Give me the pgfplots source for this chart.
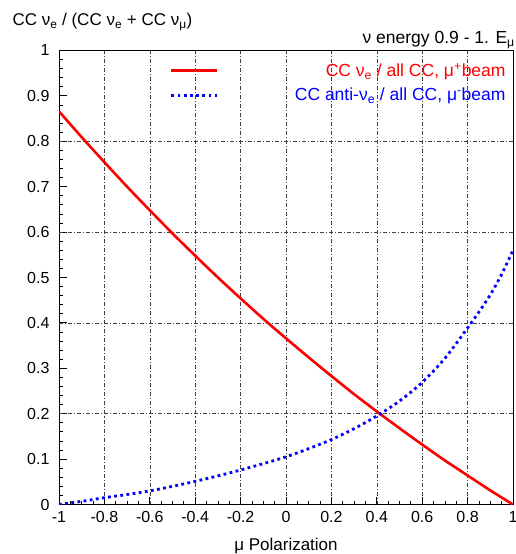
\documentclass[border=0pt]{standalone}
\usepackage{fontspec}
\setmainfont{Liberation Sans}
\usepackage{pgfplots}
\pgfplotsset{compat=1.18}
\pgfplotstableread{
x y
-1.0 0.866
-0.9 0.809
-0.8 0.754
-0.7 0.700
-0.6 0.648
-0.5 0.597
-0.4 0.548
-0.3 0.500
-0.2 0.454
-0.1 0.409
0.0 0.366
0.1 0.324
0.2 0.283
0.3 0.243
0.4 0.205
0.5 0.168
0.6 0.132
0.7 0.097
0.8 0.064
0.9 0.031
1.0 0.000
}\redtab
\pgfplotstableread{
x y
-1.0 0.000
-0.9 0.007
-0.8 0.015
-0.7 0.022
-0.6 0.030
-0.5 0.040
-0.4 0.051
-0.3 0.063
-0.2 0.076
-0.1 0.090
0.0 0.105
0.1 0.123
0.2 0.143
0.3 0.167
0.4 0.195
0.5 0.228
0.6 0.269
0.7 0.322
0.8 0.389
0.85 0.424
0.9 0.462
0.95 0.507
1.0 0.560
}\bluetab
\begin{document}
\begin{tikzpicture}
\useasboundingbox (0,0) rectangle (516pt,554pt);
\begin{axis}[
  at={(59pt,49.5pt)}, anchor=south west,
  scale only axis, width=454pt, height=454pt,
  xmin=-1, xmax=1, ymin=0, ymax=1,
  axis line style={line width=0.9pt},
  xtick={-1,-0.8,...,1.01},
  xticklabels={-1,-0.8,-0.6,-0.4,-0.2,0,0.2,0.4,0.6,0.8,1},
  ytick={0,0.1,...,1.01},
  yticklabels={0,0.1,0.2,0.3,0.4,0.5,0.6,0.7,0.8,0.9,1},
  minor x tick num=3, minor y tick num=4,
  xtick pos=bottom, ytick pos=left,
  tick align=inside,
  major tick length=8pt, minor tick length=4pt,
  every tick/.style={black, line width=0.8pt},
  xmajorgrids,
  extra y ticks={0.2,0.4,0.6,0.8},
  extra y tick labels={},
  extra y tick style={grid=major, major tick length=0pt},
  grid style={black!75, line width=0.6pt, dash pattern=on 4pt off 2pt on 1pt off 2pt},
  tick label style={font=\fontsize{16}{19}\selectfont},
  xticklabel style={yshift=-3pt},
  yticklabel style={xshift=-6pt},
  xlabel={μ Polarization},
  xlabel style={font=\fontsize{17}{20}\selectfont, at={(0.5,0)}, anchor=base, yshift=-46pt},
  legend cell align=right,
  legend image code/.code={\draw[#1] (0pt,0pt) -- (46pt,0pt);},
  legend style={draw=none, fill=none, at={(0.995,0.981)}, anchor=north east,
    font=\fontsize{17.5}{21}\selectfont, row sep=6pt,
    /tikz/every odd column/.append style={column sep=74pt}},
]
\addplot[red, line width=2.6pt, smooth] table[x=x,y=y] {\redtab};
\addlegendentry{\textcolor{red}{CC ν\textsubscript{e} / all CC, μ\textsuperscript{+}beam}}
\addplot[blue, line width=2.8pt, line cap=butt, smooth, dash pattern=on 2.8pt off 3.4pt] table[x=x,y=y] {\bluetab};
\addlegendentry{\textcolor{blue}{CC anti-ν\textsubscript{e} / all CC, μ\textsuperscript{-}beam}}
\end{axis}
\node[anchor=base west, font=\fontsize{17}{20}\selectfont] at (9pt,528pt) {CC ν\textsubscript{e} / (CC ν\textsubscript{e} + CC ν\textsubscript{μ})};
\node[anchor=base east, font=\fontsize{17.5}{20}\selectfont, inner sep=0pt] at (515pt,510pt) {ν energy 0.9 - 1. E\textsubscript{μ}};
\end{tikzpicture}
\end{document}
